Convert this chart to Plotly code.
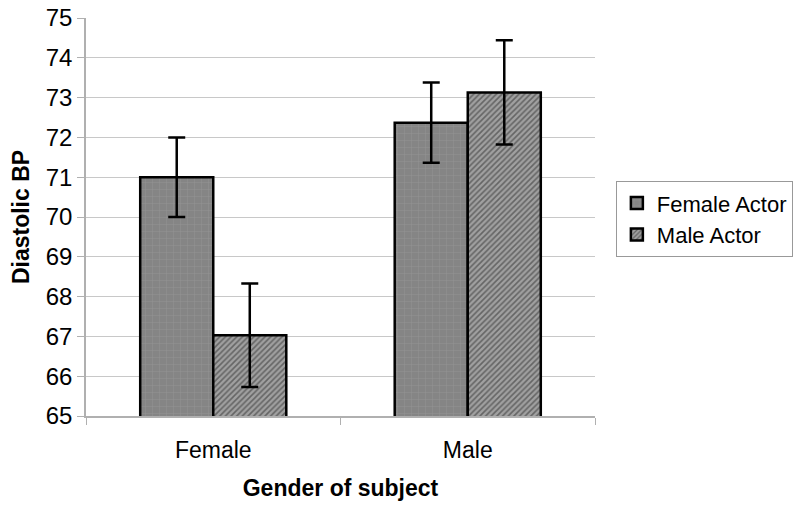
import plotly.graph_objects as go

categories = ["Female", "Male"]
series_names = ["Female Actor", "Male Actor"]
female_actor = [71.0, 72.37]
female_actor_err = [1.0, 1.01]
male_actor = [67.03, 73.13]
male_actor_err = [1.3, 1.31]
y_ticks = list(range(65, 76))

fig = go.Figure()
fig.add_trace(go.Bar(
    name=series_names[0], x=categories, y=female_actor,
    error_y=dict(type="data", array=female_actor_err, color="black", thickness=2.5, width=8.5),
    marker=dict(color="#858585", line=dict(color="black", width=2.5),
                pattern=dict(shape="+", fgcolor="#a6a6a6", bgcolor="#858585", size=7, solidity=0.12)),
))
fig.add_trace(go.Bar(
    name=series_names[1], x=categories, y=male_actor,
    error_y=dict(type="data", array=male_actor_err, color="black", thickness=2.5, width=8.5),
    marker=dict(color="#8a8a8a", line=dict(color="black", width=2.5),
                pattern=dict(shape="/", fgcolor="#2a2a2a", bgcolor="#a0a0a0", size=4, solidity=0.4)),
))

font_family = "Liberation Sans, Arial, sans-serif"
fig.update_layout(
    width=800, height=509,
    margin=dict(l=86, r=205, t=18, b=93, autoexpand=False),
    paper_bgcolor="white", plot_bgcolor="white",
    barmode="group", bargap=0.426, bargroupgap=0,
    font=dict(family=font_family, color="black", size=23),
    legend=dict(x=1.041, y=0.59, xanchor="left", yanchor="top",
                bordercolor="#999999", borderwidth=1, bgcolor="white",
                font=dict(size=22), tracegroupgap=4, itemwidth=30),
    xaxis=dict(
        title=dict(text="<b>Gender of subject</b>", font=dict(size=23), standoff=18),
        showline=True, linecolor="#b0b0b0", linewidth=1.5,
        ticks="outside", tickson="boundaries", ticklen=7, tickcolor="#b0b0b0",
        ticklabelstandoff=13,
        tickfont=dict(size=23), showgrid=False, automargin=False,
    ),
    yaxis=dict(
        title=dict(text="<b>Diastolic BP</b>", font=dict(size=23), standoff=10),
        range=[65, 75], tickvals=y_ticks, ticks="outside", ticklen=7, tickcolor="#b0b0b0",
        showline=True, linecolor="#b0b0b0", linewidth=1.5,
        showgrid=True, gridcolor="#c8c8c8", gridwidth=1.2,
        ticklabeloverflow="allow",
        tickfont=dict(size=24), zeroline=False, automargin=False,
    ),
)

fig.write_html("out.html", config={"displayModeBar": False},
               post_script="document.body.style.margin='0';")
